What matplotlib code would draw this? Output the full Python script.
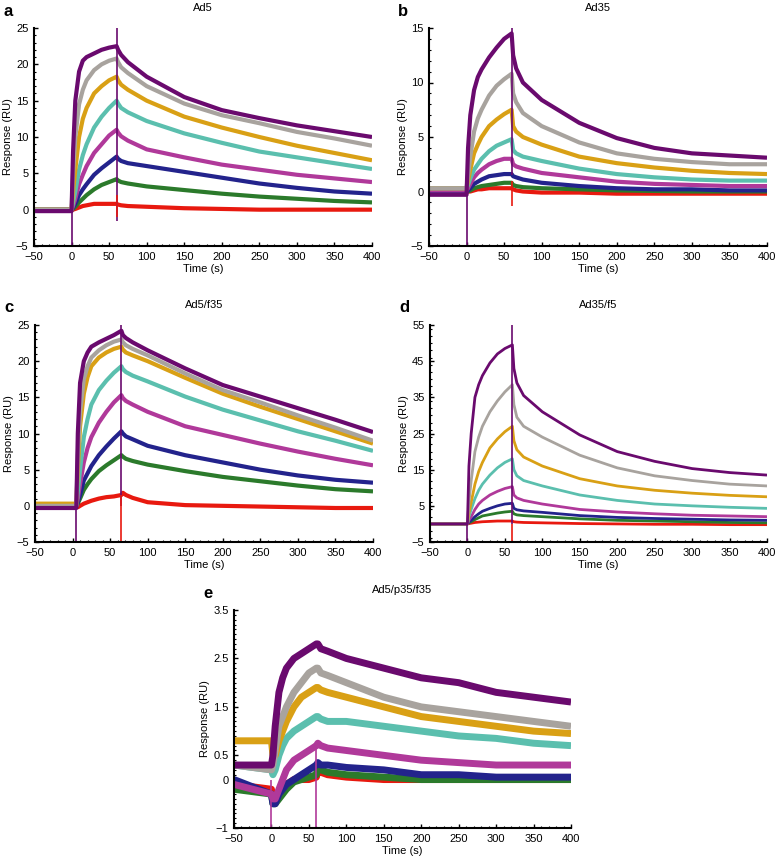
import numpy as np
from matplotlib import pyplot as plt
from matplotlib.ticker import MultipleLocator

plt.rcParams['font.family'] = ['Liberation Sans', 'DejaVu Sans']

# colours of the eight concentrations, lowest first
colors = ['#e8190f', '#2b7a2b', '#23238c', '#b0399a', '#5bbfae', '#d9a015', '#a8a39e', '#6a0a6e']

# sample times (s); panel c is shifted by 5 s
t = [-50, 0, 2, 5, 10, 15, 20, 30, 40, 50, 60, 62, 66, 75, 100, 150, 200, 250, 300, 350, 400]
t_c = [-50, 5, 7, 10, 15, 20, 25, 35, 45, 55, 65, 67, 71, 80, 100, 150, 200, 250, 300, 350, 400]

# responses (RU), order: red, green, navy, magenta, teal, orange, gray, purple
ad5 = [
    [0, 0, 0, 0.1, 0.3, 0.5, 0.6, 0.8, 0.8, 0.8, 0.8, 0.7, 0.6, 0.5, 0.4, 0.2, 0.1, 0, 0, 0, 0],
    [0, 0, 0.1, 0.4, 1, 1.5, 2, 2.8, 3.4, 3.8, 4.2, 4.0, 3.8, 3.6, 3.2, 2.7, 2.2, 1.8, 1.5, 1.2, 1.0],
    [0, 0, 0.3, 0.8, 2, 2.8, 3.5, 4.8, 5.7, 6.5, 7.3, 7, 6.7, 6.4, 6, 5.2, 4.4, 3.6, 3.0, 2.5, 2.2],
    [0, 0, 0.5, 1.5, 3.5, 4.8, 6, 7.8, 9, 10.2, 11, 10.6, 10.1, 9.5, 8.3, 7.2, 6.2, 5.5, 4.8, 4.3, 3.8],
    [0, 0, 1, 2.5, 5.5, 7.5, 9, 11.3, 12.8, 14, 15, 14.6, 14, 13.4, 12.2, 10.5, 9.2, 8, 7.2, 6.4, 5.6],
    [0, 0, 2.5, 5.5, 10, 12.5, 14, 16, 17, 17.8, 18.3, 17.8, 17.2, 16.5, 15, 12.8, 11.3, 10, 8.8, 7.8, 6.8],
    [0, 0, 5, 10, 14.5, 16.5, 17.8, 19.2, 20, 20.5, 20.8, 20.3, 19.6, 18.8, 17, 14.6, 13, 11.9, 10.7, 9.8, 8.8],
    [-0.2, -0.2, 8, 15, 19, 20.5, 21, 21.5, 22, 22.3, 22.5, 22, 21.3, 20.3, 18.3, 15.5, 13.7, 12.6, 11.6, 10.8, 10],
]
ad35 = [
    [0, 0, 0, 0, 0.1, 0.2, 0.2, 0.3, 0.3, 0.3, 0.3, 0.2, 0.1, 0, -0.1, -0.1, -0.2, -0.2, -0.2, -0.2, -0.2],
    [0, 0, 0, 0.1, 0.3, 0.4, 0.5, 0.6, 0.7, 0.8, 0.8, 0.6, 0.5, 0.4, 0.3, 0.2, 0.1, 0.05, 0, 0, 0],
    [0, 0, 0.1, 0.3, 0.7, 0.9, 1.1, 1.4, 1.5, 1.6, 1.6, 1.4, 1.3, 1.1, 0.8, 0.5, 0.3, 0.2, 0.2, 0.1, 0.1],
    [0.1, 0.1, 0.3, 0.7, 1.3, 1.7, 2, 2.5, 2.8, 3, 3, 2.5, 2.3, 2.1, 1.7, 1.3, 0.9, 0.7, 0.6, 0.5, 0.5],
    [0.3, 0.3, 0.6, 1.2, 2, 2.5, 3, 3.7, 4.2, 4.5, 4.8, 3.8, 3.5, 3.2, 2.8, 2.1, 1.6, 1.3, 1.1, 1.0, 1.0],
    [0.3, 0.3, 1, 2, 3.5, 4.3, 5, 6, 6.6, 7.1, 7.5, 6, 5.5, 5, 4.3, 3.2, 2.6, 2.2, 1.9, 1.7, 1.6],
    [0.3, 0.3, 1.5, 3.2, 5.5, 6.7, 7.5, 8.8, 9.7, 10.3, 10.8, 9, 8.2, 7.2, 6, 4.5, 3.5, 3.0, 2.7, 2.5, 2.5],
    [-0.3, -0.3, 4, 7, 9.3, 10.5, 11.2, 12.3, 13.2, 14, 14.5, 12.5, 11.3, 10, 8.4, 6.3, 4.9, 4.0, 3.5, 3.3, 3.1],
]
ad5_f35 = [
    [0, 0, -0.2, 0, 0.3, 0.5, 0.7, 1, 1.2, 1.3, 1.5, 1.8, 1.5, 1.1, 0.5, 0.1, 0, -0.1, -0.2, -0.3, -0.3],
    [0, 0, 0.3, 1, 2.2, 3, 3.7, 4.8, 5.6, 6.3, 7, 6.8, 6.5, 6.2, 5.7, 4.8, 4, 3.4, 2.8, 2.3, 2.0],
    [0, 0, 0.5, 1.5, 3.5, 4.5, 5.5, 7, 8.2, 9.3, 10.3, 10, 9.6, 9.2, 8.3, 7, 6, 5, 4.2, 3.6, 3.2],
    [0, 0, 1, 3, 6, 8, 9.5, 11.5, 13, 14.3, 15.3, 14.9, 14.5, 14, 13, 11, 9.8, 8.6, 7.5, 6.5, 5.6],
    [0, 0, 2, 5, 9.5, 12, 14, 16, 17.3, 18.4, 19.3, 18.9, 18.5, 18, 17.2, 15.1, 13.3, 11.8, 10.3, 9, 7.6],
    [0.3, 0.3, 5, 11, 15.5, 17.8, 19.3, 20.5, 21.2, 21.7, 22, 21.6, 21.2, 20.8, 20, 17.7, 15.5, 13.7, 12, 10.3, 8.6],
    [0, 0, 7, 13, 17.5, 19.3, 20.5, 21.5, 22.2, 22.7, 23, 22.6, 22.2, 21.7, 20.8, 18.3, 16, 14.3, 12.5, 10.8, 9.0],
    [-0.3, -0.3, 10, 17, 20, 21.2, 22, 22.6, 23.1, 23.6, 24.2, 23.6, 23.2, 22.6, 21.5, 19, 16.7, 15.1, 13.5, 11.9, 10.2],
]
ad35_f5 = [
    [0, 0, 0.1, 0.2, 0.4, 0.5, 0.6, 0.7, 0.8, 0.8, 0.8, 0.6, 0.5, 0.4, 0.3, 0.1, 0, -0.1, -0.1, -0.2, -0.2],
    [0, 0, 0.3, 0.6, 1.2, 1.7, 2.2, 2.6, 3, 3.3, 3.5, 2.8, 2.5, 2.3, 2, 1.4, 1, 0.8, 0.6, 0.4, 0.3],
    [0, 0, 0.5, 1, 2, 2.8, 3.5, 4.3, 5, 5.5, 5.7, 4.3, 3.9, 3.6, 3.2, 2.3, 1.8, 1.5, 1.3, 1.1, 1.0],
    [0, 0, 1, 2, 4, 5.5, 6.5, 8, 9, 9.8, 10.3, 8, 7.2, 6.5, 5.5, 4, 3.3, 2.8, 2.4, 2.2, 2.0],
    [0, 0, 2, 4, 7, 9.3, 11, 13.5, 15.5, 17, 18, 15, 13.3, 12, 10.5, 8, 6.5, 5.5, 5, 4.6, 4.3],
    [0, 0, 3, 6, 11, 14.5, 17, 21, 23.5, 25.5, 27, 23, 20.5, 18.5, 16, 12.5, 10.5, 9.3, 8.5, 7.9, 7.5],
    [0, 0, 6, 12, 20, 24, 27, 31, 34, 36.5, 38.5, 33, 29.5, 27, 24, 19, 15.5, 13.3, 12, 11, 10.5],
    [0, 0, 16, 25, 35, 38.5, 41, 44.5, 47, 48.5, 49.5, 43, 39, 35.5, 31, 24.6, 20, 17.3, 15.3, 14.2, 13.5],
]
ad5_p35_f35 = [
    [-0.1, -0.2, -0.4, -0.4, -0.3, -0.2, -0.1, 0, 0, 0, 0.05, 0.2, 0.15, 0.1, 0.05, 0, 0, 0, 0, 0, 0],
    [-0.2, -0.3, -0.5, -0.5, -0.4, -0.3, -0.2, -0.05, 0.0, 0.05, 0.1, 0.3, 0.2, 0.15, 0.1, 0.05, 0, 0, 0, 0, 0],
    [0, -0.3, -0.5, -0.5, -0.3, -0.2, -0.1, 0.0, 0.1, 0.2, 0.3, 0.35, 0.3, 0.3, 0.25, 0.2, 0.1, 0.1, 0.05, 0.05, 0.05],
    [-0.1, -0.3, -0.4, -0.4, -0.2, 0.0, 0.2, 0.4, 0.5, 0.6, 0.7, 0.75, 0.7, 0.65, 0.6, 0.5, 0.4, 0.35, 0.3, 0.3, 0.3],
    [0.3, 0.2, 0.1, 0.2, 0.5, 0.7, 0.85, 1.0, 1.1, 1.2, 1.3, 1.3, 1.25, 1.2, 1.2, 1.1, 1.0, 0.9, 0.85, 0.75, 0.7],
    [0.8, 0.8, 0.5, 0.5, 0.8, 1.0, 1.2, 1.5, 1.7, 1.8, 1.9, 1.9, 1.85, 1.8, 1.7, 1.5, 1.3, 1.2, 1.1, 1.0, 0.95],
    [0.3, 0.2, 0.3, 0.6, 1.1, 1.3, 1.5, 1.8, 2.0, 2.2, 2.3, 2.3, 2.2, 2.15, 2.0, 1.7, 1.5, 1.4, 1.3, 1.2, 1.1],
    [0.3, 0.3, 0.5, 1.1, 1.8, 2.1, 2.3, 2.5, 2.6, 2.7, 2.8, 2.8, 2.7, 2.65, 2.5, 2.3, 2.1, 2.0, 1.8, 1.7, 1.6],
]

# injection spikes: (time, low, high, colour index)
spikes_a = [(0, -5, 0, 7), (60, -1.5, 25, 7), (60, -1, 2, 0)]
spikes_b = [(0, -5, 0, 7), (60, 1.5, 15.3, 7), (60, -1.3, 1, 0)]
spikes_c = [(5, -5, 0, 7), (65, 0, 25, 7), (65, -5, 1.5, 0)]
spikes_d = [(0, -5, 0, 7), (60, 0, 55, 7), (60, -5, 0, 0)]
spikes_e = [(0, -1, 0, 3), (60, -1, 0.7, 3)]

fig = plt.figure(figsize=(7.77, 8.61), dpi=100)
W, H = 777, 861


def panel(box, letter, title, times, curves, spikes, ylim, yticks, yminor, lw):
    x0, y0, x1, y1 = box
    ax = fig.add_axes([x0 / W, 1 - y1 / H, (x1 - x0) / W, (y1 - y0) / H])
    for vals, c in zip(curves, colors):
        ax.plot(times, vals, color=c, lw=lw, solid_joinstyle='round', solid_capstyle='butt')
    for sx, lo, hi, ci in spikes:
        ax.vlines(sx, lo, hi, color=colors[ci], lw=1.2)
    ax.set_xlim(-50, 400)
    ax.set_ylim(*ylim)
    ax.set_xticks(range(-50, 401, 50))
    ax.set_xticklabels(['\u221250'] + [str(v) for v in range(0, 401, 50)])
    ax.set_yticks(yticks)
    ax.set_yticklabels([('\u2212' + str(abs(v))) if v < 0 else str(v) for v in yticks])
    ax.xaxis.set_minor_locator(MultipleLocator(10))
    ax.yaxis.set_minor_locator(MultipleLocator(yminor))
    ax.tick_params(direction='in', length=3, width=1, labelsize=8)
    ax.tick_params(axis='x', pad=4)
    ax.tick_params(axis='y', pad=4)
    ax.tick_params(which='minor', direction='in', length=1.5, width=0.8)
    for s in ['top', 'right']:
        ax.spines[s].set_visible(False)
    for s in ['left', 'bottom']:
        ax.spines[s].set_linewidth(1.5)
    ax.set_xlabel('Time (s)', fontsize=8, labelpad=2)
    ax.set_ylabel('Response (RU)', fontsize=8, labelpad=2)
    ax.set_title(title, fontsize=8, pad=12)
    fig.text((x0 - 31) / W, 1 - (y0 - 17) / H, letter, fontsize=12, fontweight='bold', va='center')
    return ax


panel((34, 28, 372, 246), 'a', 'Ad5', t, ad5, spikes_a, (-5, 25), [-5, 0, 5, 10, 15, 20, 25], 1, 3)
panel((429, 28, 767, 246), 'b', 'Ad35', t, ad35, spikes_b, (-5, 15), [-5, 0, 5, 10, 15], 1, 3)
panel((35, 325, 373, 542), 'c', 'Ad5/f35', t_c, ad5_f35, spikes_c, (-5, 25), [-5, 0, 5, 10, 15, 20, 25], 1, 3)
panel((430, 325, 767, 542), 'd', 'Ad35/f5', t, ad35_f5, spikes_d, (-5, 55), [-5, 5, 15, 25, 35, 45, 55], 2, 2)
panel((234, 610, 571, 828), 'e', 'Ad5/p35/f35', t, ad5_p35_f35, spikes_e, (-1, 3.5), [-1, 0, 0.5, 1.5, 2.5, 3.5], 0.1, 5)

fig.savefig('out.png', dpi=100)
